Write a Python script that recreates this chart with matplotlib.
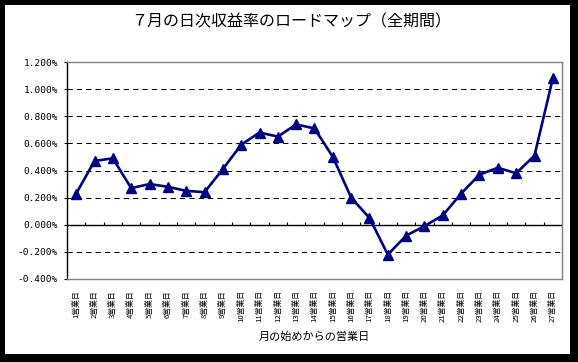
import numpy as np
import matplotlib
matplotlib.use('Agg')
import matplotlib.pyplot as plt
from matplotlib.patches import Rectangle

plt.rcParams['font.family'] = ['Noto Sans CJK JP', 'DejaVu Sans']

days = list(range(1, 28))
day_labels = ['%d営業日' % d for d in days]
returns = [0.23, 0.47, 0.49, 0.27, 0.30, 0.28, 0.25, 0.24, 0.41, 0.59,
           0.68, 0.65, 0.74, 0.71, 0.50, 0.20, 0.05, -0.22, -0.08, -0.01,
           0.07, 0.23, 0.37, 0.42, 0.38, 0.51, 1.08]
y_ticks = [-0.4, -0.2, 0.0, 0.2, 0.4, 0.6, 0.8, 1.0, 1.2]

title = '７月の日次収益率のロードマップ（全期間）'
xlabel = '月の始めからの営業日'

fig = plt.figure(figsize=(5.78, 3.62), dpi=100, facecolor='black')
fig.patches.append(Rectangle((5/578, 8/362), 565/578, 349/362,
                             transform=fig.transFigure, facecolor='white',
                             edgecolor='none', zorder=-5))

ax = fig.add_axes([67/578, 1 - 279/362, 495/578, 217/362])
ax.set_facecolor('white')

# dashed grid, solid zero line
for v in y_ticks:
    if v == 0.0:
        ax.axhline(v, color='black', lw=1.0, zorder=2)
    elif -0.4 < v < 1.2:
        ax.axhline(v, color='black', lw=0.75, linestyle=(0, (5, 4)), zorder=1)

# small tick marks on the zero line between categories
bounds = np.arange(1.5, len(days), 1.0)
ax.vlines(bounds, 0, 0.022, color='black', lw=0.8, zorder=2)

ax.plot(days, returns, color='#000080', lw=1.9, marker='^', markersize=6.5,
        markeredgecolor='#000080', markerfacecolor='#000080', zorder=3)

ax.set_xlim(0.5, len(days) + 0.5)
ax.set_ylim(-0.4, 1.2)
ax.set_yticks(y_ticks)
ax.set_yticklabels(['%.3f%%' % v for v in y_ticks], family='DejaVu Sans Mono',
                   fontsize=6.8)
ax.set_xticks(days)
ax.set_xticklabels(day_labels, rotation=90, fontsize=5.6, va='top')
ax.tick_params(axis='x', length=0, pad=8)
ax.tick_params(axis='y', length=2.5, width=0.8, pad=4, direction='out')

for s in ['top', 'right', 'bottom']:
    ax.spines[s].set_color('#808080')
    ax.spines[s].set_linewidth(1.0)
ax.spines['left'].set_color('black')
ax.spines['left'].set_linewidth(1.0)

fig.text(291/578, 1 - 22/362, title, ha='center', va='center', fontsize=11.5)
fig.text(314/578, 1 - 337/362, xlabel, ha='center', va='center', fontsize=8)

fig.savefig('out.png', dpi=100, facecolor='black')
